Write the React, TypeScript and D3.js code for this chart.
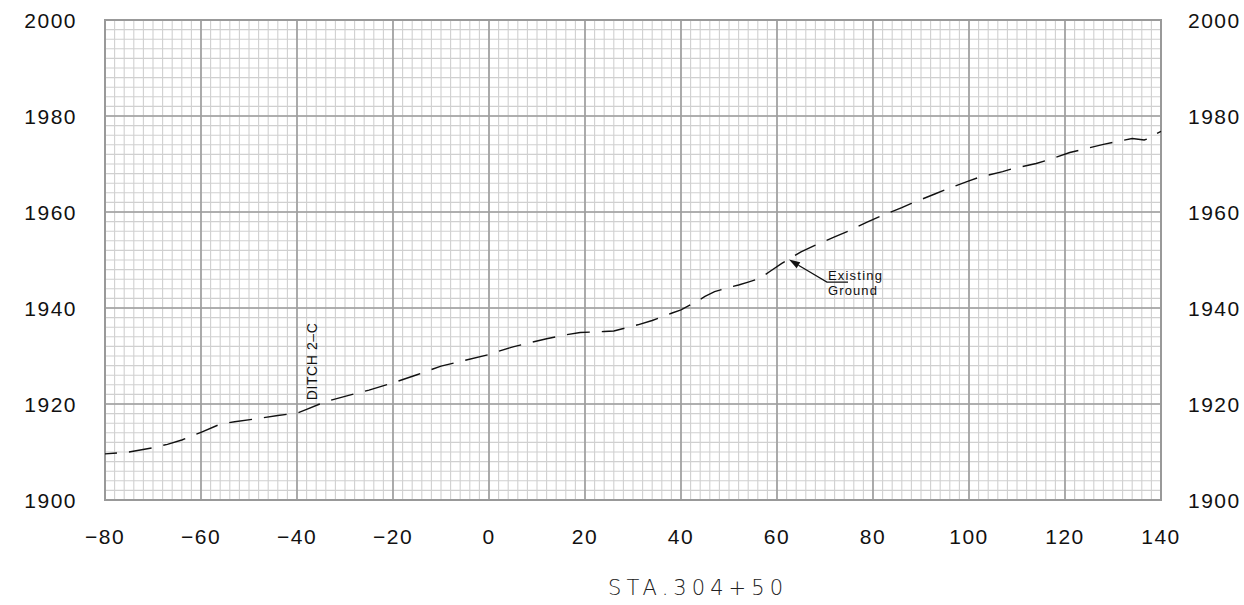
import React from "react";
import * as d3 from "d3";

const stations: number[] = [-80, -75, -70, -67, -64, -62, -60, -56, -53, -48, -44, -40, -38, -34, -30, -25, -20, -15, -10, -5, 0, 2, 5, 9, 12, 16, 19, 24, 26, 31, 34, 38, 40, 43, 45, 47, 50, 52, 54, 56.5, 58.5, 61, 65, 68, 72, 75, 79, 81, 86, 88, 93, 95, 100, 102, 107, 109, 114, 117, 121, 124, 128, 131, 134, 136.5, 138, 139, 140];
const elevations: number[] = [1909.6, 1910.0, 1910.9, 1911.6, 1912.5, 1913.3, 1914.1, 1915.8, 1916.3, 1917.0, 1917.6, 1918.1, 1918.9, 1920.5, 1921.6, 1922.9, 1924.4, 1926.1, 1927.9, 1929.1, 1930.3, 1931.0, 1931.9, 1932.9, 1933.6, 1934.4, 1934.9, 1935.1, 1935.2, 1936.5, 1937.4, 1938.9, 1939.6, 1941.2, 1942.4, 1943.4, 1944.3, 1944.8, 1945.4, 1946.2, 1947.6, 1949.3, 1951.7, 1953.1, 1954.8, 1956.1, 1958.0, 1958.9, 1960.9, 1961.8, 1963.8, 1964.6, 1966.5, 1967.2, 1968.4, 1969.0, 1970.1, 1971.0, 1972.4, 1973.1, 1974.1, 1974.7, 1975.3, 1975.0, 1975.5, 1976.3, 1976.8];

const xTicks: number[] = [-80, -60, -40, -20, 0, 20, 40, 60, 80, 100, 120, 140];
const yTicks: number[] = [1900, 1920, 1940, 1960, 1980, 2000];
const xTitle = "STA.304+50";
const ditchLabel = "DITCH  2\u2013C";
const groundLabel = ["Existing", "Ground"];

const W = 1244, H = 605;
const L = 105, R = 1161, T = 20, B = 500;

export default function App() {
  const x = d3.scaleLinear().domain([-80, 140]).range([L, R]);
  const y = d3.scaleLinear().domain([1900, 2000]).range([B, T]);
  const minorX = d3.range(-80, 140.001, 2);
  const minorY = d3.range(1900, 2000.001, 2);
  const majorX = d3.range(-80, 140.001, 20);
  const majorY = d3.range(1900, 2000.001, 20);
  const pts: [number, number][] = stations.map((s, i) => [s, elevations[i]]);
  const line = d3.line<[number, number]>().x(d => x(d[0])).y(d => y(d[1]));
  const font = "'Liberation Sans', Arial, sans-serif";
  const thin = "'DejaVu Sans', sans-serif";

  const tipX = x(62.5), tipY = y(1950.1);
  const elbowX = x(70.4), elbowY = y(1945.4);
  const endX = x(74.8);
  const ang = Math.atan2(elbowY - tipY, elbowX - tipX);
  const ah = 11, aw = 3.5;
  const bx = tipX + ah * Math.cos(ang), by = tipY + ah * Math.sin(ang);
  const px = -Math.sin(ang) * aw, py = Math.cos(ang) * aw;

  return (
    <svg width={W} height={H} style={{ position: "absolute", left: 0, top: 0, background: "#fff" }}>
      <rect x={0} y={0} width={W} height={H} fill="#fff" />
      <g>
        {minorX.map(v => (
          <line key={"mx" + v} x1={x(v)} x2={x(v)} y1={T} y2={B} stroke="#d0d0d0" strokeWidth={1.1} />
        ))}
        {minorY.map(v => (
          <line key={"my" + v} x1={L} x2={R} y1={y(v)} y2={y(v)} stroke="#d0d0d0" strokeWidth={1.1} />
        ))}
        {majorX.map(v => (
          <line key={"Mx" + v} x1={x(v)} x2={x(v)} y1={T} y2={B} stroke="#9c9c9c" strokeWidth={1.6} />
        ))}
        {majorY.map(v => (
          <line key={"My" + v} x1={L} x2={R} y1={y(v)} y2={y(v)} stroke="#9c9c9c" strokeWidth={1.6} />
        ))}
        <rect x={L} y={T} width={R - L} height={B - T} fill="none" stroke="#999" strokeWidth={2} />
      </g>
      <path d={line(pts) || ""} fill="none" stroke="#111" strokeWidth={1.4} strokeDasharray="23 12" strokeDashoffset={11} />
      {yTicks.map(v => (
        <text key={"yl" + v} x={77} y={y(v) + 8} textAnchor="end" fontFamily={font} fontSize={21} letterSpacing={1.5} fill="#111">{v}</text>
      ))}
      {yTicks.map(v => (
        <text key={"yr" + v} x={1188} y={y(v) + 8} textAnchor="start" fontFamily={font} fontSize={21} letterSpacing={1.5} fill="#111">{v}</text>
      ))}
      {xTicks.map(v => (
        <text key={"xl" + v} x={x(v)} y={544} textAnchor="middle" fontFamily={font} fontSize={21} letterSpacing={1.5} fill="#111">{v < 0 ? "\u2212" + Math.abs(v) : String(v)}</text>
      ))}
      <text x={608} y={595} fontFamily={thin} fontWeight={200} fontSize={21} textLength={175} lengthAdjust="spacing" fill="#222">{xTitle}</text>
      <text transform={`translate(${x(-35.8)},${y(1920.8)}) rotate(-90)`} fontFamily={font} fontSize={14} textLength={77} lengthAdjust="spacing" fill="#111">{ditchLabel}</text>
      <polyline points={`${endX},${elbowY} ${elbowX},${elbowY} ${bx},${by}`} fill="none" stroke="#111" strokeWidth={1.2} />
      <polygon points={`${tipX},${tipY} ${bx + px},${by + py} ${bx - px},${by - py}`} fill="#111" />
      <text x={x(70.4) + 1} y={elbowY - 2} fontFamily={font} fontSize={13} textLength={54} lengthAdjust="spacing" fill="#111">{groundLabel[0]}</text>
      <text x={x(70.4) + 1} y={elbowY + 13} fontFamily={font} fontSize={13} textLength={49} lengthAdjust="spacing" fill="#111">{groundLabel[1]}</text>
    </svg>
  );
}
